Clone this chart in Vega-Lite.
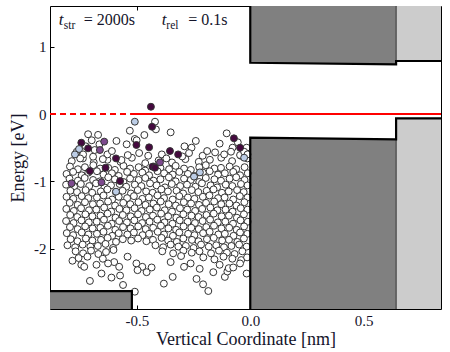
{
"$schema":"https://vega.github.io/schema/vega-lite/v6.json",
"width":391,"height":303,
"autosize":{"type":"none"},
"padding":{"left":50,"top":6,"right":9,"bottom":43},
"background":"white",
"config":{"view":{"stroke":null},"font":"Liberation Serif, serif",
"axis":{"grid":false,"domain":true,"domainColor":"black","domainWidth":1,"tickColor":"black","tickSize":-4,"tickWidth":1,"zindex":1,"labelFont":"Liberation Serif, serif","labelFontSize":15,"labelColor":"#14142a","labelPadding":8,"labelFlush":false,"labelOverlap":false,"titleFont":"Liberation Serif, serif","titleFontWeight":"normal","titleFontSize":18,"titleColor":"#14142a"}},
"datasets":{
"blocks":[
{"g":"vb_left","m":"dark","x":-0.883,"y":-2.63,"y2":-2.897},{"g":"vb_left","m":"dark","x":-0.522,"y":-2.63,"y2":-2.897},
{"g":"vb_mid","m":"dark","x":0,"y":-0.352,"y2":-2.897},{"g":"vb_mid","m":"dark","x":0.643,"y":-0.376,"y2":-2.897},
{"g":"vb_right","m":"light","x":0.643,"y":-0.064,"y2":-2.897},{"g":"vb_right","m":"light","x":0.841,"y":-0.064,"y2":-2.897},
{"g":"cb_mid","m":"dark","x":0,"y":0.762,"y2":1.605},{"g":"cb_mid","m":"dark","x":0.643,"y":0.738,"y2":1.605},
{"g":"cb_right","m":"light","x":0.643,"y":0.788,"y2":1.605},{"g":"cb_right","m":"light","x":0.841,"y":0.788,"y2":1.605}
],
"edges":[
{"g":"cb","o":1,"x":0,"y":1.605},{"g":"cb","o":2,"x":0,"y":0.762},{"g":"cb","o":3,"x":0.643,"y":0.738},{"g":"cb","o":4,"x":0.643,"y":0.788},{"g":"cb","o":5,"x":0.841,"y":0.788},
{"g":"vb","o":1,"x":0,"y":-2.897},{"g":"vb","o":2,"x":0,"y":-0.352},{"g":"vb","o":3,"x":0.643,"y":-0.376},{"g":"vb","o":4,"x":0.643,"y":-0.064},{"g":"vb","o":5,"x":0.841,"y":-0.064},
{"g":"vl","o":1,"x":-0.883,"y":-2.63},{"g":"vl","o":2,"x":-0.522,"y":-2.63},{"g":"vl","o":3,"x":-0.522,"y":-2.897}
],
"dividers":[
{"g":"d1","o":1,"x":0.643,"y":-2.897},{"g":"d1","o":2,"x":0.643,"y":-0.376},
{"g":"d2","o":1,"x":0.643,"y":0.738},{"g":"d2","o":2,"x":0.643,"y":1.605}
],
"fermiDash":[{"x":-0.883,"y":0},{"x":-0.53,"y":0}],
"fermiSolid":[{"x":-0.53,"y":0},{"x":0.841,"y":0}],
"italic":[{"x":-0.844,"y":1.322,"t":"t"},{"x":-0.39,"y":1.322,"t":"t"}],
"sub":[{"x":-0.822,"y":1.268,"t":"str"},{"x":-0.370,"y":1.268,"t":"rel"}],
"eq":[{"x":-0.734,"y":1.322,"t":"= 2000s"},{"x":-0.273,"y":1.322,"t":"= 0.1s"}],
"white":[
{"x":-0.787,"y":-0.70},{"x":-0.738,"y":-0.66},{"x":-0.690,"y":-0.72},{"x":-0.630,"y":-0.68},{"x":-0.572,"y":-0.71},{"x":-0.522,"y":-0.65},{"x":-0.463,"y":-0.73},{"x":-0.404,"y":-0.69},{"x":-0.345,"y":-0.72},{"x":-0.286,"y":-0.67},{"x":-0.227,"y":-0.71},{"x":-0.178,"y":-0.68},{"x":-0.128,"y":-0.65},{"x":-0.080,"y":-0.70},{"x":-0.042,"y":-0.62},{"x":-0.013,"y":-0.66},
{"x":-0.795,"y":-0.78},{"x":-0.760,"y":-0.82},{"x":-0.729,"y":-0.79},{"x":-0.692,"y":-0.76},{"x":-0.662,"y":-0.81},{"x":-0.626,"y":-0.80},{"x":-0.597,"y":-0.83},{"x":-0.559,"y":-0.77},{"x":-0.530,"y":-0.81},{"x":-0.492,"y":-0.79},{"x":-0.463,"y":-0.84},{"x":-0.426,"y":-0.78},{"x":-0.396,"y":-0.80},{"x":-0.358,"y":-0.82},{"x":-0.329,"y":-0.77},{"x":-0.292,"y":-0.81},{"x":-0.262,"y":-0.83},{"x":-0.225,"y":-0.79},{"x":-0.196,"y":-0.76},{"x":-0.158,"y":-0.81},{"x":-0.129,"y":-0.80},{"x":-0.091,"y":-0.78},{"x":-0.062,"y":-0.82},{"x":-0.025,"y":-0.79},
{"x":-0.810,"y":-0.89},{"x":-0.781,"y":-0.86},{"x":-0.743,"y":-0.91},{"x":-0.714,"y":-0.87},{"x":-0.676,"y":-0.85},{"x":-0.647,"y":-0.90},{"x":-0.610,"y":-0.88},{"x":-0.580,"y":-0.92},{"x":-0.543,"y":-0.86},{"x":-0.513,"y":-0.89},{"x":-0.476,"y":-0.87},{"x":-0.446,"y":-0.91},{"x":-0.409,"y":-0.85},{"x":-0.380,"y":-0.88},{"x":-0.342,"y":-0.90},{"x":-0.313,"y":-0.86},{"x":-0.275,"y":-0.89},{"x":-0.246,"y":-0.92},{"x":-0.209,"y":-0.87},{"x":-0.179,"y":-0.85},{"x":-0.142,"y":-0.90},{"x":-0.112,"y":-0.88},{"x":-0.075,"y":-0.86},{"x":-0.045,"y":-0.91},{"x":-0.011,"y":-0.88},
{"x":-0.797,"y":-0.96},{"x":-0.760,"y":-0.99},{"x":-0.730,"y":-0.95},{"x":-0.693,"y":-0.98},{"x":-0.663,"y":-1.00},{"x":-0.626,"y":-0.94},{"x":-0.597,"y":-0.97},{"x":-0.559,"y":-1.01},{"x":-0.530,"y":-0.96},{"x":-0.492,"y":-0.98},{"x":-0.463,"y":-0.95},{"x":-0.426,"y":-0.99},{"x":-0.396,"y":-0.97},{"x":-0.359,"y":-0.94},{"x":-0.329,"y":-1.00},{"x":-0.292,"y":-0.96},{"x":-0.262,"y":-0.98},{"x":-0.225,"y":-1.01},{"x":-0.196,"y":-0.95},{"x":-0.158,"y":-0.97},{"x":-0.129,"y":-0.99},{"x":-0.091,"y":-0.96},{"x":-0.062,"y":-0.94},{"x":-0.025,"y":-0.98},
{"x":-0.812,"y":-1.05},{"x":-0.777,"y":-1.08},{"x":-0.747,"y":-1.04},{"x":-0.710,"y":-1.07},{"x":-0.680,"y":-1.03},{"x":-0.643,"y":-1.09},{"x":-0.614,"y":-1.06},{"x":-0.576,"y":-1.04},{"x":-0.547,"y":-1.08},{"x":-0.509,"y":-1.05},{"x":-0.480,"y":-1.07},{"x":-0.442,"y":-1.03},{"x":-0.413,"y":-1.06},{"x":-0.376,"y":-1.09},{"x":-0.346,"y":-1.04},{"x":-0.309,"y":-1.07},{"x":-0.279,"y":-1.05},{"x":-0.242,"y":-1.08},{"x":-0.213,"y":-1.03},{"x":-0.175,"y":-1.06},{"x":-0.146,"y":-1.09},{"x":-0.108,"y":-1.05},{"x":-0.079,"y":-1.07},{"x":-0.041,"y":-1.04},{"x":-0.012,"y":-1.06},
{"x":-0.793,"y":-1.14},{"x":-0.764,"y":-1.16},{"x":-0.726,"y":-1.13},{"x":-0.697,"y":-1.17},{"x":-0.659,"y":-1.15},{"x":-0.630,"y":-1.12},{"x":-0.593,"y":-1.16},{"x":-0.563,"y":-1.14},{"x":-0.526,"y":-1.18},{"x":-0.496,"y":-1.13},{"x":-0.459,"y":-1.15},{"x":-0.430,"y":-1.17},{"x":-0.392,"y":-1.12},{"x":-0.363,"y":-1.15},{"x":-0.325,"y":-1.14},{"x":-0.296,"y":-1.18},{"x":-0.258,"y":-1.13},{"x":-0.229,"y":-1.16},{"x":-0.192,"y":-1.14},{"x":-0.162,"y":-1.12},{"x":-0.125,"y":-1.17},{"x":-0.095,"y":-1.15},{"x":-0.058,"y":-1.13},{"x":-0.029,"y":-1.16},
{"x":-0.810,"y":-1.23},{"x":-0.780,"y":-1.26},{"x":-0.743,"y":-1.22},{"x":-0.714,"y":-1.25},{"x":-0.676,"y":-1.24},{"x":-0.647,"y":-1.21},{"x":-0.609,"y":-1.27},{"x":-0.580,"y":-1.23},{"x":-0.543,"y":-1.25},{"x":-0.513,"y":-1.22},{"x":-0.476,"y":-1.26},{"x":-0.447,"y":-1.24},{"x":-0.409,"y":-1.21},{"x":-0.380,"y":-1.25},{"x":-0.342,"y":-1.27},{"x":-0.313,"y":-1.22},{"x":-0.275,"y":-1.24},{"x":-0.246,"y":-1.26},{"x":-0.209,"y":-1.23},{"x":-0.180,"y":-1.21},{"x":-0.142,"y":-1.25},{"x":-0.113,"y":-1.24},{"x":-0.075,"y":-1.27},{"x":-0.046,"y":-1.22},{"x":-0.012,"y":-1.24},
{"x":-0.796,"y":-1.32},{"x":-0.761,"y":-1.35},{"x":-0.729,"y":-1.31},{"x":-0.694,"y":-1.34},{"x":-0.662,"y":-1.33},{"x":-0.627,"y":-1.30},{"x":-0.596,"y":-1.36},{"x":-0.560,"y":-1.32},{"x":-0.529,"y":-1.34},{"x":-0.493,"y":-1.31},{"x":-0.462,"y":-1.35},{"x":-0.427,"y":-1.33},{"x":-0.395,"y":-1.30},{"x":-0.360,"y":-1.34},{"x":-0.328,"y":-1.36},{"x":-0.293,"y":-1.31},{"x":-0.261,"y":-1.33},{"x":-0.226,"y":-1.35},{"x":-0.195,"y":-1.32},{"x":-0.159,"y":-1.30},{"x":-0.128,"y":-1.34},{"x":-0.092,"y":-1.33},{"x":-0.061,"y":-1.36},{"x":-0.026,"y":-1.31},
{"x":-0.811,"y":-1.41},{"x":-0.778,"y":-1.44},{"x":-0.746,"y":-1.40},{"x":-0.711,"y":-1.43},{"x":-0.679,"y":-1.42},{"x":-0.644,"y":-1.39},{"x":-0.613,"y":-1.45},{"x":-0.577,"y":-1.41},{"x":-0.546,"y":-1.43},{"x":-0.510,"y":-1.40},{"x":-0.479,"y":-1.44},{"x":-0.443,"y":-1.42},{"x":-0.412,"y":-1.39},{"x":-0.377,"y":-1.43},{"x":-0.345,"y":-1.45},{"x":-0.310,"y":-1.40},{"x":-0.278,"y":-1.42},{"x":-0.243,"y":-1.44},{"x":-0.212,"y":-1.41},{"x":-0.176,"y":-1.39},{"x":-0.145,"y":-1.43},{"x":-0.109,"y":-1.42},{"x":-0.078,"y":-1.45},{"x":-0.042,"y":-1.40},{"x":-0.012,"y":-1.42},
{"x":-0.794,"y":-1.50},{"x":-0.763,"y":-1.53},{"x":-0.727,"y":-1.49},{"x":-0.696,"y":-1.52},{"x":-0.660,"y":-1.51},{"x":-0.629,"y":-1.48},{"x":-0.594,"y":-1.54},{"x":-0.562,"y":-1.50},{"x":-0.527,"y":-1.52},{"x":-0.495,"y":-1.49},{"x":-0.460,"y":-1.53},{"x":-0.429,"y":-1.51},{"x":-0.393,"y":-1.48},{"x":-0.362,"y":-1.52},{"x":-0.326,"y":-1.54},{"x":-0.295,"y":-1.49},{"x":-0.259,"y":-1.51},{"x":-0.228,"y":-1.53},{"x":-0.193,"y":-1.50},{"x":-0.161,"y":-1.48},{"x":-0.126,"y":-1.52},{"x":-0.094,"y":-1.51},{"x":-0.059,"y":-1.54},{"x":-0.028,"y":-1.49},
{"x":-0.812,"y":-1.59},{"x":-0.779,"y":-1.62},{"x":-0.744,"y":-1.58},{"x":-0.712,"y":-1.61},{"x":-0.677,"y":-1.60},{"x":-0.645,"y":-1.57},{"x":-0.611,"y":-1.63},{"x":-0.578,"y":-1.59},{"x":-0.544,"y":-1.61},{"x":-0.511,"y":-1.58},{"x":-0.477,"y":-1.62},{"x":-0.444,"y":-1.60},{"x":-0.410,"y":-1.57},{"x":-0.378,"y":-1.61},{"x":-0.343,"y":-1.63},{"x":-0.311,"y":-1.58},{"x":-0.276,"y":-1.60},{"x":-0.244,"y":-1.62},{"x":-0.210,"y":-1.59},{"x":-0.177,"y":-1.57},{"x":-0.143,"y":-1.61},{"x":-0.110,"y":-1.60},{"x":-0.076,"y":-1.63},{"x":-0.043,"y":-1.58},{"x":-0.011,"y":-1.60},
{"x":-0.795,"y":-1.68},{"x":-0.761,"y":-1.71},{"x":-0.728,"y":-1.67},{"x":-0.695,"y":-1.70},{"x":-0.661,"y":-1.69},{"x":-0.628,"y":-1.66},{"x":-0.595,"y":-1.72},{"x":-0.561,"y":-1.68},{"x":-0.528,"y":-1.70},{"x":-0.494,"y":-1.67},{"x":-0.461,"y":-1.71},{"x":-0.428,"y":-1.69},{"x":-0.394,"y":-1.66},{"x":-0.361,"y":-1.70},{"x":-0.327,"y":-1.72},{"x":-0.294,"y":-1.67},{"x":-0.260,"y":-1.69},{"x":-0.227,"y":-1.71},{"x":-0.194,"y":-1.68},{"x":-0.160,"y":-1.66},{"x":-0.127,"y":-1.70},{"x":-0.093,"y":-1.69},{"x":-0.060,"y":-1.72},{"x":-0.027,"y":-1.67},
{"x":-0.809,"y":-1.77},{"x":-0.781,"y":-1.80},{"x":-0.743,"y":-1.76},{"x":-0.714,"y":-1.79},{"x":-0.676,"y":-1.78},{"x":-0.647,"y":-1.75},{"x":-0.609,"y":-1.81},{"x":-0.580,"y":-1.77},{"x":-0.542,"y":-1.79},{"x":-0.513,"y":-1.76},{"x":-0.475,"y":-1.80},{"x":-0.446,"y":-1.78},{"x":-0.408,"y":-1.75},{"x":-0.380,"y":-1.79},{"x":-0.341,"y":-1.81},{"x":-0.313,"y":-1.76},{"x":-0.274,"y":-1.78},{"x":-0.246,"y":-1.80},{"x":-0.208,"y":-1.77},{"x":-0.179,"y":-1.75},{"x":-0.141,"y":-1.79},{"x":-0.112,"y":-1.78},{"x":-0.074,"y":-1.81},{"x":-0.045,"y":-1.76},{"x":-0.013,"y":-1.78},
{"x":-0.792,"y":-1.86},{"x":-0.762,"y":-1.89},{"x":-0.725,"y":-1.85},{"x":-0.696,"y":-1.88},{"x":-0.658,"y":-1.87},{"x":-0.629,"y":-1.84},{"x":-0.592,"y":-1.90},{"x":-0.562,"y":-1.86},{"x":-0.525,"y":-1.88},{"x":-0.495,"y":-1.85},{"x":-0.458,"y":-1.89},{"x":-0.429,"y":-1.87},{"x":-0.391,"y":-1.84},{"x":-0.362,"y":-1.88},{"x":-0.324,"y":-1.90},{"x":-0.295,"y":-1.85},{"x":-0.257,"y":-1.87},{"x":-0.228,"y":-1.89},{"x":-0.191,"y":-1.86},{"x":-0.161,"y":-1.84},{"x":-0.124,"y":-1.88},{"x":-0.094,"y":-1.87},{"x":-0.057,"y":-1.90},{"x":-0.028,"y":-1.85},
{"x":-0.806,"y":-1.95},{"x":-0.772,"y":-1.98},{"x":-0.739,"y":-1.94},{"x":-0.705,"y":-1.97},{"x":-0.672,"y":-1.96},{"x":-0.638,"y":-1.93},{"x":-0.605,"y":-1.99},{"x":-0.418,"y":-1.95},{"x":-0.384,"y":-1.98},{"x":-0.351,"y":-1.94},{"x":-0.317,"y":-1.97},{"x":-0.284,"y":-1.96},{"x":-0.250,"y":-1.99},{"x":-0.217,"y":-1.94},{"x":-0.183,"y":-1.97},{"x":-0.150,"y":-1.95},{"x":-0.116,"y":-1.98},{"x":-0.083,"y":-1.96},{"x":-0.049,"y":-1.94},{"x":-0.016,"y":-1.97},
{"x":-0.770,"y":-2.04},{"x":-0.737,"y":-2.07},{"x":-0.702,"y":-2.03},{"x":-0.670,"y":-2.08},{"x":-0.636,"y":-2.05},{"x":-0.603,"y":-2.02},{"x":-0.388,"y":-2.04},{"x":-0.340,"y":-2.07},{"x":-0.295,"y":-2.03},{"x":-0.258,"y":-2.06},{"x":-0.224,"y":-2.04},{"x":-0.173,"y":-2.07},{"x":-0.138,"y":-2.03},{"x":-0.103,"y":-2.06},{"x":-0.069,"y":-2.08},{"x":-0.035,"y":-2.04},
{"x":-0.757,"y":-2.14},{"x":-0.718,"y":-2.12},{"x":-0.650,"y":-2.15},{"x":-0.305,"y":-2.11},{"x":-0.207,"y":-2.13},{"x":-0.158,"y":-2.16},{"x":-0.118,"y":-2.12},{"x":-0.079,"y":-2.15},{"x":-0.040,"y":-2.17},{"x":-0.014,"y":-2.13},
{"x":-0.715,"y":-0.30},{"x":-0.671,"y":-0.31},{"x":-0.699,"y":-0.39},{"x":-0.686,"y":-0.535},{"x":-0.737,"y":-0.60},{"x":-0.693,"y":-0.634},{"x":-0.568,"y":-0.683},{"x":-0.531,"y":-0.248},{"x":-0.467,"y":-0.312},{"x":-0.509,"y":-0.371},{"x":-0.545,"y":-0.45},{"x":-0.420,"y":-0.114},{"x":-0.416,"y":-0.228},{"x":-0.351,"y":-0.272},{"x":-0.104,"y":-0.287},{"x":-0.259,"y":-0.50},{"x":-0.078,"y":-0.50},{"x":-0.016,"y":-0.50},{"x":-0.155,"y":-0.57},
{"x":-0.63,"y":-0.60},{"x":-0.75,"y":-0.66},{"x":-0.61,"y":-0.55},{"x":-0.49,"y":-0.58},{"x":-0.45,"y":-0.62},{"x":-0.39,"y":-0.60},{"x":-0.37,"y":-0.66},{"x":-0.30,"y":-0.63},{"x":-0.27,"y":-0.58},{"x":-0.21,"y":-0.62},{"x":-0.19,"y":-0.55},{"x":-0.115,"y":-0.60},{"x":-0.085,"y":-0.56},{"x":-0.045,"y":-0.61},{"x":-0.027,"y":-0.56},{"x":-0.012,"y":-0.60},{"x":-0.665,"y":-0.45},{"x":-0.725,"y":-0.48},{"x":-0.59,"y":-0.40},{"x":-0.65,"y":-0.67},{"x":-0.29,"y":-0.48},{"x":-0.135,"y":-0.44},{"x":-0.055,"y":-0.42},{"x":-0.24,"y":-0.40},{"x":-0.765,"y":-0.56},{"x":-0.54,"y":-0.61},{"x":-0.501,"y":-0.39},
{"x":-0.745,"y":-2.24},{"x":-0.732,"y":-2.27},{"x":-0.678,"y":-2.24},{"x":-0.656,"y":-2.37},{"x":-0.600,"y":-2.20},{"x":-0.707,"y":-2.48},{"x":-0.612,"y":-2.43},{"x":-0.574,"y":-2.40},{"x":-0.561,"y":-2.54},{"x":-0.509,"y":-2.64},{"x":-0.541,"y":-2.12},{"x":-0.502,"y":-2.22},{"x":-0.476,"y":-2.27},{"x":-0.497,"y":-2.32},{"x":-0.457,"y":-2.35},{"x":-0.435,"y":-2.28},{"x":-0.381,"y":-2.52},{"x":-0.342,"y":-2.42},{"x":-0.237,"y":-2.45},{"x":-0.208,"y":-2.53},{"x":-0.185,"y":-2.63},{"x":-0.163,"y":-2.35},{"x":-0.112,"y":-2.42},{"x":-0.101,"y":-2.34},{"x":-0.095,"y":-2.29},{"x":-0.075,"y":-2.28},{"x":-0.045,"y":-2.22},{"x":-0.016,"y":-2.37},{"x":-0.784,"y":-2.18},{"x":-0.627,"y":-2.22},{"x":-0.578,"y":-2.27},{"x":-0.351,"y":-2.20},{"x":-0.292,"y":-2.27},{"x":-0.263,"y":-2.22},{"x":-0.223,"y":-2.30},{"x":-0.135,"y":-2.24}
],
"colored":[
{"x":-0.438,"y":0.108,"k":"high"},{"x":-0.433,"y":-0.189,"k":"high"},{"x":-0.502,"y":-0.46,"k":"high"},{"x":-0.446,"y":-0.495,"k":"high"},{"x":-0.745,"y":-0.426,"k":"high"},{"x":-0.715,"y":-0.51,"k":"high"},{"x":-0.592,"y":-0.659,"k":"high"},{"x":-0.638,"y":-0.798,"k":"high"},{"x":-0.707,"y":-0.847,"k":"high"},{"x":-0.574,"y":-0.996,"k":"high"},{"x":-0.431,"y":-0.783,"k":"high"},{"x":-0.072,"y":-0.361,"k":"high"},{"x":-0.045,"y":-0.50,"k":"high"},{"x":-0.354,"y":-0.55,"k":"high"},{"x":-0.318,"y":-0.60,"k":"high"},{"x":-0.420,"y":-0.798,"k":"high"},
{"x":-0.663,"y":-0.535,"k":"mid"},{"x":-0.788,"y":-1.03,"k":"mid"},{"x":-0.656,"y":-1.015,"k":"mid"},{"x":-0.398,"y":-0.718,"k":"mid"},{"x":-0.644,"y":-0.41,"k":"mid"},
{"x":-0.509,"y":-0.114,"k":"low"},{"x":-0.755,"y":-0.52,"k":"low"},{"x":-0.773,"y":-0.60,"k":"low"},{"x":-0.592,"y":-1.154,"k":"low"},{"x":-0.027,"y":-0.649,"k":"low"},{"x":-0.222,"y":-0.867,"k":"low"},{"x":-0.248,"y":-0.93,"k":"low"}
]
},
"layer":[
{"data":{"name":"blocks"},"mark":{"type":"area","orient":"vertical","clip":true},
 "encoding":{
  "x":{"field":"x","type":"quantitative","scale":{"domain":[-0.883,0.841],"nice":false,"zero":false},"axis":{"orient":"top","values":[-0.5,0,0.5],"labels":false,"title":null}},
  "y":{"field":"y","type":"quantitative","scale":{"domain":[-2.897,1.605],"nice":false,"zero":false},"axis":{"orient":"right","values":[-2,-1,0,1],"labels":false,"title":null}},
  "y2":{"field":"y2"},
  "detail":{"field":"g"},
  "color":{"field":"m","type":"nominal","scale":{"domain":["dark","light"],"range":["#808080","#cccccc"]},"legend":null}}},
{"data":{"name":"dividers"},"mark":{"type":"line","color":"#555555","strokeWidth":1.5,"clip":true},
 "encoding":{"x":{"field":"x","type":"quantitative","axis":null},"y":{"field":"y","type":"quantitative","axis":null},"detail":{"field":"g"},"order":{"field":"o"}}},
{"data":{"name":"fermiDash"},"mark":{"type":"line","color":"#ff0000","strokeWidth":1.8,"strokeDash":[6,4],"clip":true},
 "encoding":{"x":{"field":"x","type":"quantitative","axis":null},"y":{"field":"y","type":"quantitative","axis":null}}},
{"data":{"name":"fermiSolid"},"mark":{"type":"line","color":"#ff0000","strokeWidth":1.8,"clip":true},
 "encoding":{"x":{"field":"x","type":"quantitative","axis":null},"y":{"field":"y","type":"quantitative","axis":null}}},
{"data":{"name":"white"},"mark":{"type":"circle","fill":"white","stroke":"#333333","strokeWidth":1,"size":48,"opacity":1,"clip":true},
 "encoding":{
  "x":{"field":"x","type":"quantitative","axis":{"orient":"bottom","values":[-0.5,0,0.5],"labelExpr":"datum.value == 0 ? '0.0' : '' + datum.value","title":"Vertical Coordinate [nm]","titlePadding":2}},
  "y":{"field":"y","type":"quantitative","axis":{"orient":"left","values":[-2,-1,0,1],"labelExpr":"'' + datum.value","title":"Energy [eV]","titlePadding":6}}}},
{"data":{"name":"colored"},"mark":{"type":"circle","stroke":"#333333","strokeWidth":1,"size":48,"opacity":1,"clip":true},
 "encoding":{"x":{"field":"x","type":"quantitative","axis":null},"y":{"field":"y","type":"quantitative","axis":null},
  "color":{"field":"k","type":"nominal","scale":{"domain":["low","mid","high"],"range":["#bccde6","#7d4a8e","#45093f"]},"legend":null}}},
{"data":{"name":"edges"},"mark":{"type":"line","color":"black","strokeWidth":2.2,"clip":true},
 "encoding":{"x":{"field":"x","type":"quantitative","axis":null},"y":{"field":"y","type":"quantitative","axis":null},"detail":{"field":"g"},"order":{"field":"o"}}},
{"data":{"name":"italic"},"mark":{"type":"text","align":"left","baseline":"alphabetic","font":"Liberation Serif, serif","fontStyle":"italic","fontSize":17,"color":"#14142a"},
 "encoding":{"x":{"field":"x","type":"quantitative","axis":null},"y":{"field":"y","type":"quantitative","axis":null},"text":{"field":"t"}}},
{"data":{"name":"sub"},"mark":{"type":"text","align":"left","baseline":"alphabetic","font":"Liberation Serif, serif","fontSize":11.5,"color":"#14142a"},
 "encoding":{"x":{"field":"x","type":"quantitative","axis":null},"y":{"field":"y","type":"quantitative","axis":null},"text":{"field":"t"}}},
{"data":{"name":"eq"},"mark":{"type":"text","align":"left","baseline":"alphabetic","font":"Liberation Serif, serif","fontSize":16,"color":"#14142a"},
 "encoding":{"x":{"field":"x","type":"quantitative","axis":null},"y":{"field":"y","type":"quantitative","axis":null},"text":{"field":"t"}}}
],
"resolve":{"axis":{"x":"independent","y":"independent"},"scale":{"color":"independent"}}
}
